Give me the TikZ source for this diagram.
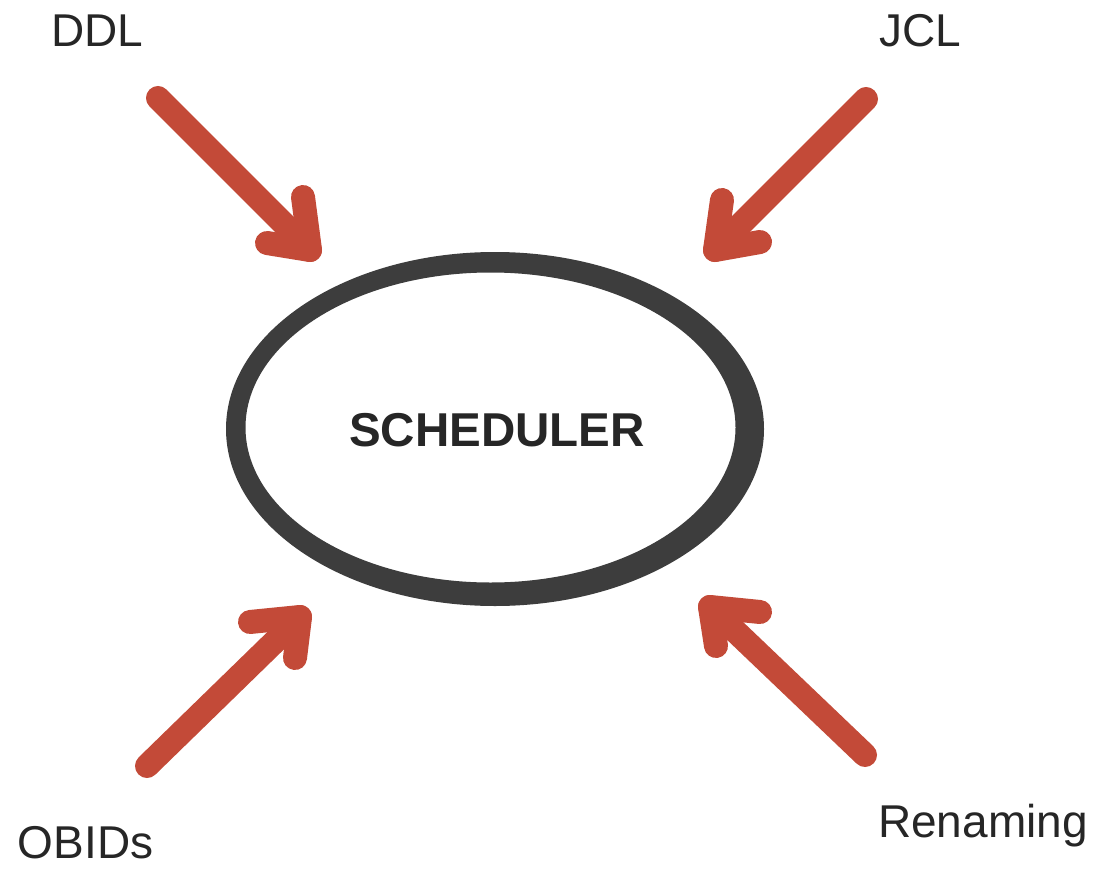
\documentclass[tikz,border=0pt]{standalone}
\usepackage{fontspec}
\setmainfont{Liberation Sans}
\definecolor{arrowred}{RGB}{195,74,56}
\definecolor{ringgray}{RGB}{61,61,61}
\definecolor{textgray}{RGB}{38,38,38}
\begin{document}
\begin{tikzpicture}[x=1pt,y=-1pt,
  lbl/.style={anchor=base,text=textgray,font=\fontsize{46}{55}\selectfont,inner sep=0pt},
  shaft/.style={draw=arrowred,line width=24pt,line cap=round,line join=round}]
\useasboundingbox (0,0) rectangle (1097,869);
\fill[white] (0,0) rectangle (1097,869);
% ring
\fill[ringgray,even odd rule] (495,429) ellipse [x radius=269,y radius=177]
      (490.5,427.5) ellipse [x radius=245,y radius=155];
\node[text=textgray,font=\bfseries\fontsize{47.5}{56}\selectfont,inner sep=0pt] (sched) at (497,430) {SCHEDULER};
% labels
\node[lbl] (ddl) at (97.5,47) {DDL};
\node[lbl] (jcl) at (920,47) {JCL};
\node[lbl] (obids) at (85.5,858) {OBIDs};
\node[lbl] (ren) at (983,837) {Renaming};
% arrow coordinates
\coordinate (a1s) at (158,98);  \coordinate (a1t) at (310,250);
\coordinate (a1b) at (303,197); \coordinate (a1c) at (267,243);
\coordinate (a2s) at (866,99);  \coordinate (a2t) at (715,250);
\coordinate (a2b) at (722,200); \coordinate (a2c) at (760,242);
\coordinate (a3s) at (147,766); \coordinate (a3t) at (300,617);
\coordinate (a3b) at (250,622); \coordinate (a3c) at (295,658);
\coordinate (a4s) at (865,755); \coordinate (a4t) at (710,607);
\coordinate (a4b) at (760,612); \coordinate (a4c) at (716,646);
% arrows
\draw[shaft] (a1s) -- (a1t);
\draw[shaft] (a1b) -- (a1t) -- (a1c);
\draw[shaft] (a2s) -- (a2t);
\draw[shaft] (a2b) -- (a2t) -- (a2c);
\draw[shaft] (a3s) -- (a3t);
\draw[shaft] (a3b) -- (a3t) -- (a3c);
\draw[shaft] (a4s) -- (a4t);
\draw[shaft] (a4b) -- (a4t) -- (a4c);
\end{tikzpicture}
\end{document}
